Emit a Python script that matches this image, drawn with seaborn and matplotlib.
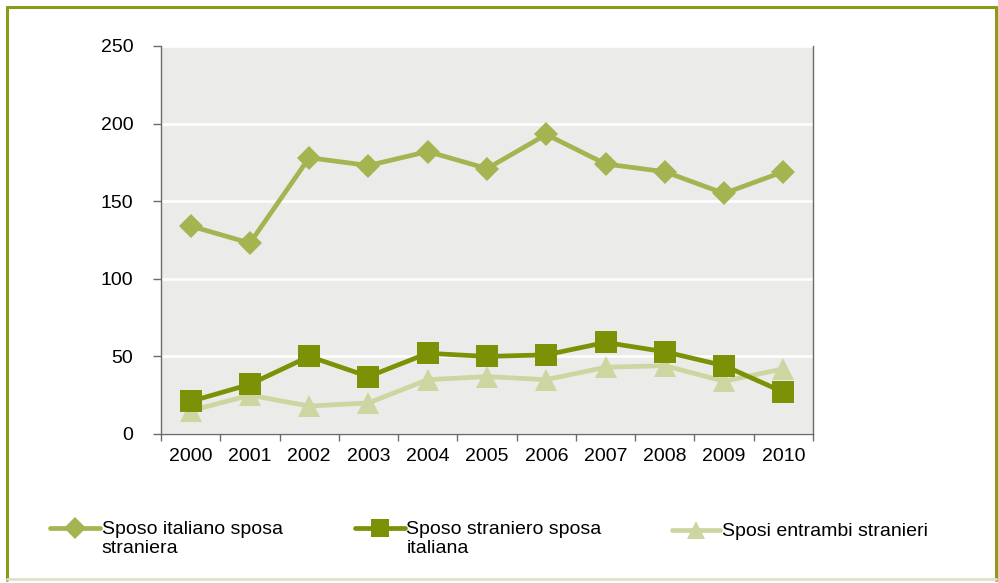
import matplotlib
matplotlib.use("Agg")
import matplotlib.pyplot as plt
import seaborn as sns
import pandas as pd
import numpy as np
from matplotlib.lines import Line2D

years = ["2000", "2001", "2002", "2003", "2004", "2005", "2006", "2007", "2008", "2009", "2010"]
italiano_straniera = [134, 123, 178, 173, 182, 171, 193, 174, 169, 155, 169]
straniero_italiana = [21, 32, 50, 37, 52, 50, 51, 59, 53, 44, 27]
entrambi_stranieri = [15, 25, 18, 20, 35, 37, 35, 43, 44, 34, 42]
labels = ["Sposo italiano sposa\nstraniera", "Sposo straniero sposa\nitaliana", "Sposi entrambi stranieri"]
y_ticks = [0, 50, 100, 150, 200, 250]

colors = ["#A5B350", "#7D9106", "#CDD5A0"]
markers = ["D", "s", "^"]
msizes = [12.5, 16, 16.5]

sns.set_theme(style="white")
plt.rcParams['font.family'] = ['Liberation Sans', 'DejaVu Sans']

W, H = 998, 583
fig = plt.figure(figsize=(W / 100, H / 100), dpi=100)
ax = fig.add_axes([161 / W, 1 - 434 / H, (813 - 161) / W, (434 - 46) / H])
ax.set_facecolor("#EBECEA")

series = [italiano_straniera, straniero_italiana, entrambi_stranieri]
for i in [2, 1, 0]:
    df = pd.DataFrame({"anno": years, "valore": series[i]})
    sns.lineplot(data=df, x="anno", y="valore", ax=ax, color=colors[i],
                 marker=markers[i], markersize=msizes[i], linewidth=3.4,
                 markeredgewidth=0, sort=False, zorder=3 + (2 - i))

ax.set_ylim(0, 250)
ax.set_xlim(-0.5, len(years) - 0.5)
ax.set_yticks(y_ticks)
ax.set_yticklabels([str(v) for v in y_ticks])
ax.set_xticks(range(len(years)))
ax.set_xticklabels(years)
ax.set_xticks(np.arange(-0.5, len(years), 1.0), minor=True)
ax.set_xlabel("")
ax.set_ylabel("")

ax.yaxis.grid(True, color="white", linewidth=1.8)
ax.xaxis.grid(False)
ax.set_axisbelow(True)

for side in ["left", "bottom", "right"]:
    ax.spines[side].set_visible(True)
    ax.spines[side].set_color("#6b6b6b")
    ax.spines[side].set_linewidth(1.0)
ax.spines["top"].set_visible(False)

ax.tick_params(axis="y", which="major", direction="out", length=6, width=1, color="#6b6b6b",
               pad=14, labelsize=14, labelcolor="black", left=True)
ax.tick_params(axis="x", which="major", length=0, pad=10, labelsize=14, labelcolor="black")
ax.tick_params(axis="x", which="minor", direction="out", length=5, width=1, color="#6b6b6b", bottom=True)

# legend (drawn entry by entry so the handle lines up with the first text line)
def fx(px):
    return px / W

def fy(py):
    return 1 - py / H

leg_entries = [(50, 100, 528), (355, 405, 528), (672, 720, 530)]
leg_ms = [11, 13, 13]
for i, (x0, x1, yc) in enumerate(leg_entries):
    fig.add_artist(Line2D([fx(x0), fx(x1)], [fy(yc), fy(yc)], color=colors[i], linewidth=3.4,
                          transform=fig.transFigure))
    fig.add_artist(Line2D([fx((x0 + x1) / 2)], [fy(yc)], color=colors[i], marker=markers[i],
                          markersize=leg_ms[i], markeredgewidth=0, linestyle="none",
                          transform=fig.transFigure))
    fig.text(fx(x1 + 1.5), fy(yc - 7), labels[i], ha="left", va="top", fontsize=14,
             linespacing=1.12, color="black")

# figure border
border = "#8A9A1A"
fig.add_artist(Line2D([fx(6.5), fx(6.5)], [fy(580), fy(7)], color=border, linewidth=2.2, transform=fig.transFigure))
fig.add_artist(Line2D([fx(6.5), fx(995.5)], [fy(7), fy(7)], color=border, linewidth=2.2, transform=fig.transFigure))
fig.add_artist(Line2D([fx(995.5), fx(995.5)], [fy(580), fy(7)], color=border, linewidth=2.2, transform=fig.transFigure))
fig.add_artist(Line2D([fx(6.5), fx(995.5)], [fy(579), fy(579)], color="#DDE2CC", linewidth=2.0, transform=fig.transFigure))

fig.savefig("out.png", dpi=100)
